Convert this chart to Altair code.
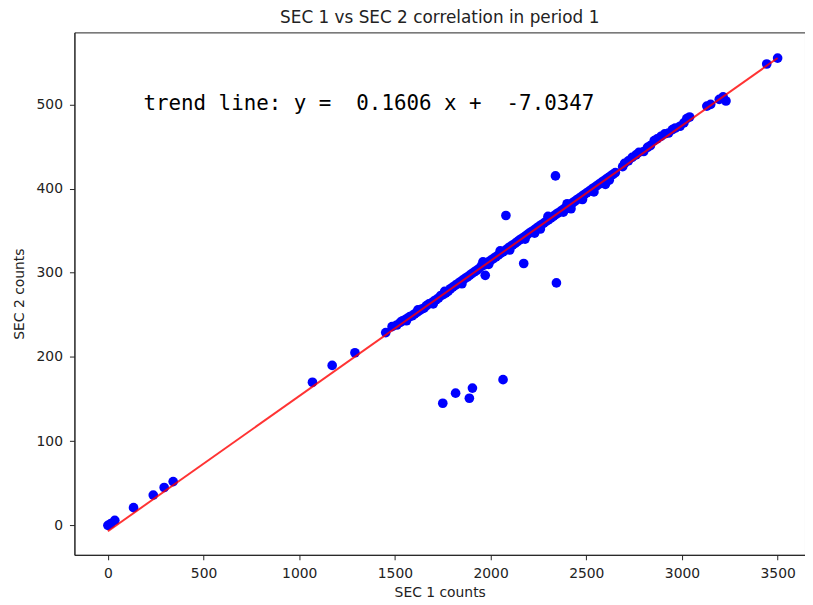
import altair as alt
import pandas as pd

# SEC 1 counts (x) and SEC 2 counts (y)
sec1 = [0, 15, 36, 134, 237, 294, 341, 1069, 1172, 1291,
        1452, 1485, 1510, 1528, 1540, 1552, 1565, 1578, 1590, 1602, 1615, 1628, 1640, 1652,
        1665, 1678, 1690, 1702, 1715, 1728, 1740, 1752, 1765, 1778, 1790, 1802, 1815, 1828,
        1840, 1852, 1865, 1878, 1890, 1902, 1915, 1928, 1940, 1952, 1965, 1978, 1990, 2002,
        2015, 2028, 2040, 2052, 2065, 2078, 2090, 2102, 2115, 2128, 2140, 2152, 2165, 2178,
        2190, 2202, 2215, 2228, 2240, 2252, 2265, 2278, 2290, 2302, 2315, 2328, 2340, 2352,
        2365, 2378, 2390, 2402, 2415, 2428, 2440, 2452, 2465, 2478, 2490, 2502, 2515, 2528,
        2540, 2552, 2565, 2578, 2590, 2602, 2615, 2628, 2640, 2652,
        1560, 1700, 1850, 1990, 2100, 2180, 2230, 2260, 2380, 2420, 2480, 2540, 2600, 2620,
        1620, 1760, 1960, 2050, 2300, 2400,
        2690, 2700, 2720, 2740, 2760, 2775, 2800, 2820, 2835, 2855, 2870, 2890, 2910, 2930,
        2950, 2965, 2990, 3010, 3025, 3040, 3130, 3150, 3195, 3215, 3230, 3443, 3500,
        2339, 2080, 2173, 1972, 2344, 1750, 1817, 1905, 1889, 2065]
sec2 = [0, 2, 6, 21, 36, 45, 52, 170, 190, 205,
        229, 236, 238, 241, 243, 244, 246, 248, 249, 251, 253, 255, 257, 258,
        261, 263, 264, 266, 268, 270, 273, 274, 276, 278, 281, 283, 285, 287,
        289, 291, 293, 295, 297, 299, 301, 303, 305, 308, 309, 312, 313, 315,
        317, 319, 321, 323, 325, 327, 329, 331, 333, 335, 337, 339, 341, 343,
        345, 347, 349, 351, 353, 355, 357, 359, 361, 363, 365, 367, 369, 371,
        373, 375, 377, 379, 381, 383, 385, 387, 389, 391, 393, 395, 397, 399,
        401, 403, 405, 407, 409, 411, 413, 415, 417, 419,
        243, 263, 287, 310, 327, 340, 347, 352, 372, 376, 387, 396, 405, 410,
        256, 278, 313, 326, 367, 382,
        426, 430, 433, 437, 440, 443, 444, 449, 451, 457, 459, 462, 465, 466,
        470, 472, 474, 478, 483, 485, 498, 500, 506, 509, 504, 548, 555,
        415, 368, 311, 297, 288, 145, 157, 163, 151, 173]

slope = 0.1606
intercept = -7.0347
x_ticks = [0, 500, 1000, 1500, 2000, 2500, 3000, 3500]
y_ticks = [0, 100, 200, 300, 400, 500]

pts = pd.DataFrame({"sec1": sec1, "sec2": sec2})
x_lo, x_hi = min(sec1), max(sec1)
trend = pd.DataFrame({"sec1": [x_lo, x_hi],
                      "sec2": [slope * x_lo + intercept, slope * x_hi + intercept]})
NB = "\u00a0"
label_text = f"trend line: y ={NB}{NB}{slope} x +{NB}{NB}{intercept}"
label = pd.DataFrame({"sec1": [186], "sec2": [500], "t": [label_text]})

FONT = "DejaVu Sans"
xs = alt.Scale(domain=[-175, 3643], nice=False, zero=False)
ys = alt.Scale(domain=[-35, 585.5], nice=False, zero=False)
xax = alt.Axis(values=x_ticks, title="SEC 1 counts", grid=False, format="d",
               labelPadding=7, titlePadding=5)
yax = alt.Axis(values=y_ticks, title="SEC 2 counts", grid=False, format="d",
               labelPadding=7, titlePadding=10)

scatter = alt.Chart(pts).mark_circle(color="#0000ff", opacity=1, size=95).encode(
    x=alt.X("sec1:Q", scale=xs, axis=xax),
    y=alt.Y("sec2:Q", scale=ys, axis=yax),
)
line = alt.Chart(trend).mark_line(color="#ff0000", opacity=0.8, strokeWidth=2).encode(
    x=alt.X("sec1:Q", scale=xs), y=alt.Y("sec2:Q", scale=ys)
)
text = alt.Chart(label).mark_text(align="left", baseline="middle", font="DejaVu Sans Mono",
                                  fontSize=21, color="black").encode(
    x=alt.X("sec1:Q", scale=xs), y=alt.Y("sec2:Q", scale=ys), text="t:N"
)

chart = alt.layer(scatter, line, text).properties(
    width=737, height=527,
    title=alt.TitleParams("SEC 1 vs SEC 2 correlation in period 1", fontSize=17,
                          font=FONT, fontWeight="normal", color="#222", offset=5),
    autosize=alt.AutoSizeParams(type="none"),
    padding={"left": 67, "top": 22, "right": 0, "bottom": 48},
).configure_view(stroke="#222", strokeWidth=1).configure_axis(
    labelFont=FONT, labelFontSize=14, labelColor="#222", titleFont=FONT,
    titleFontSize=14, titleFontWeight="normal", titleColor="#222",
    tickColor="#222", domainColor="#222", tickSize=5,
)

chart.save("out.html", embed_options={"renderer": "svg", "actions": False})
